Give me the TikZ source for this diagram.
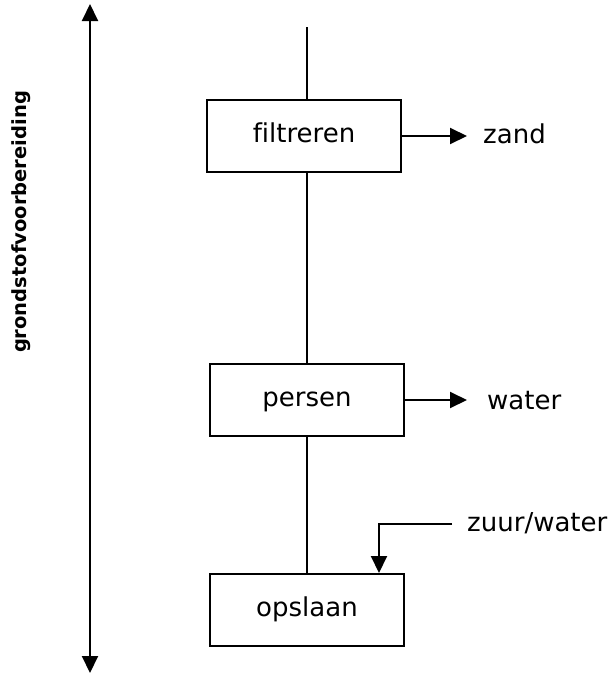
\documentclass[tikz,border=0pt]{standalone}
\usepackage{fontspec}
\setmainfont{DejaVu Sans}[Ligatures=NoCommon]
\usetikzlibrary{arrows.meta}
\begin{document}
\begin{tikzpicture}[x=1pt,y=-1pt,
  proc/.style={draw, line width=2pt, minimum width=194pt, minimum height=72pt, inner sep=0pt, text height=19pt, text depth=6pt, font=\fontsize{26}{31}\selectfont},
  lbl/.style={font=\fontsize{26}{31}\selectfont, anchor=base west, inner sep=0pt},
  flow/.style={line width=2pt},
  tip/.style={-{Triangle[length=17pt,width=16pt]}},
  arr/.style={flow, tip}
  ]
\useasboundingbox (0,0) rectangle (616,675);
% vertical double arrow with label
\coordinate (vtop) at (90,4);
\coordinate (vbot) at (90,673);
\draw[flow, {Triangle[length=17pt,width=16pt]}-{Triangle[length=17pt,width=16pt]}] (vtop) -- (vbot);
\node[rotate=90, font=\fontsize{19.5}{23}\selectfont\bfseries, inner sep=0pt] (phase) at (21,222) {grondstofvoorbereiding};
% process boxes
\coordinate (start) at (307,27);
\node[proc] (f) at (304,136) {filtreren};
\node[proc] (p) at (307,400) {persen};
\node[proc] (o) at (307,610) {opslaan};
\draw[flow] (start) -- (start |- f.north);
\draw[flow] (start |- f.south) -- (start |- p.north);
\draw[flow] (p.south) -- (o.north);
% outputs
\node[lbl] (zand) at (483,143) {zand};
\node[lbl] (water) at (487,409) {water};
\draw[arr, shorten >=16pt] (f.east) -- (f.east -| zand.west);
\draw[arr, shorten >=20pt] (p.east) -- (p.east -| water.west);
% input
\node[lbl] (zw) at (467,531) {zuur/water};
\coordinate (zin) at (452,524);
\coordinate (zbend) at (379,524);
\draw[arr] (zin) -- (zbend) -- (zbend |- o.north);
\end{tikzpicture}
\end{document}
